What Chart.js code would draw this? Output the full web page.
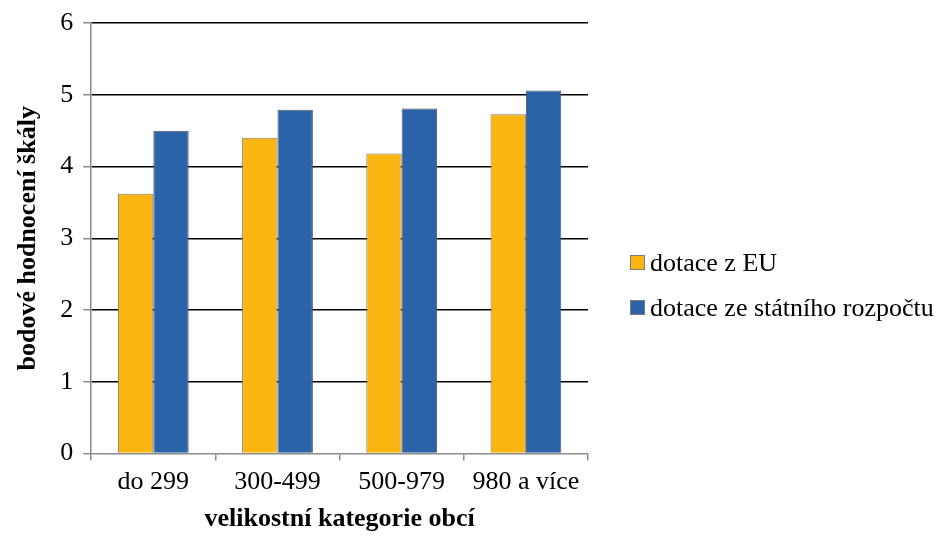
<!DOCTYPE html>
<html lang="cs">
<head>
<meta charset="utf-8">
<title>Hodnocení dotací podle velikosti obcí</title>
<script src="https://cdn.jsdelivr.net/npm/chart.js@4.4.0/dist/chart.umd.min.js"></script>
<style>
  html, body { margin: 0; padding: 0; background: #ffffff; }
  #obal { position: relative; width: 943px; height: 537px; }
  #legenda {
    position: absolute;
    left: 630px;
    top: 240px;
    font-family: 'Liberation Serif', 'Times New Roman', serif;
    font-size: 26px;
    color: #000000;
  }
  .legenda__polozka { display: flex; align-items: center; height: 45px; white-space: nowrap; }
  .legenda__ctverec {
    display: inline-block;
    width: 13px;
    height: 13px;
    border: 1px solid #7a7a7a;
    margin-right: 5px;
  }
</style>
</head>
<body>
<div id="obal">
  <canvas id="graf"></canvas>
  <div id="legenda"></div>
</div>
<script>
/* ===== DATA ===== */

const KATEGORIE = ["do 299", "300-499", "500-979", "980 a více"];
const DOTACE_EU = [3.62, 4.40, 4.18, 4.73];
const DOTACE_STAT = [4.50, 4.79, 4.81, 5.06];
const OSA_Y = [0, 1, 2, 3, 4, 5, 6];

const NAZVY_RAD = ["dotace z EU", "dotace ze státního rozpočtu"];
const BARVY_RAD = ["#FBB612", "#2B63A8"];

/* ===== STYL ===== */

const PISMO = "'Liberation Serif', 'Times New Roman', serif";
const SEDA = "#8c8c8c";

Chart.defaults.font.family = PISMO;
Chart.defaults.color = "#000000";

/* ===== GRAF ===== */

function vytvorGraf() {
  const platno = document.getElementById("graf");

  new Chart(platno, {
    type: "bar",
    data: {
      labels: KATEGORIE,
      datasets: [
        {
          label: NAZVY_RAD[0],
          data: DOTACE_EU,
          backgroundColor: BARVY_RAD[0],
          borderColor: "#7a7a7a",
          borderWidth: 1,
          categoryPercentage: 0.57,
          barPercentage: 1.0,
        },
        {
          label: NAZVY_RAD[1],
          data: DOTACE_STAT,
          backgroundColor: BARVY_RAD[1],
          borderColor: "#5a5a5a",
          borderWidth: 1,
          categoryPercentage: 0.57,
          barPercentage: 1.0,
        },
      ],
    },
    options: {
      responsive: true,
      maintainAspectRatio: false,
      animation: false,
      layout: { padding: { top: 6, right: 355, bottom: 2, left: 13 } },
      plugins: {
        tooltip: { enabled: false },
        legend: { display: false },
      },
      scales: {
        x: {
          border: { color: SEDA, width: 1.5 },
          grid: {
            offset: true,
            drawOnChartArea: false,
            drawTicks: true,
            tickLength: 7,
            tickColor: SEDA,
            lineWidth: 1.5,
          },
          ticks: { color: "#000000", font: { size: 26 }, padding: 6 },
          title: {
            display: true,
            text: "velikostní kategorie obcí",
            color: "#000000",
            font: { size: 26, weight: "bold" },
            padding: { top: 0, bottom: 0 },
          },
        },
        y: {
          min: 0,
          max: 6,
          afterBuildTicks: function(osa) {
            osa.ticks = OSA_Y.map(function(v) { return { value: v }; });
          },
          border: { color: SEDA, width: 1.5 },
          grid: {
            color: function(kontext) {
              return kontext.tick && kontext.tick.value === 0 ? "rgba(0,0,0,0)" : "#000000";
            },
            lineWidth: 1.5,
            tickLength: 8,
            tickColor: SEDA,
          },
          ticks: { color: "#000000", font: { size: 26, lineHeight: 1.0 }, padding: 10 },
          title: {
            display: true,
            text: "bodové hodnocení škály",
            color: "#000000",
            font: { size: 26, weight: "bold" },
            padding: { top: 0, bottom: 6 },
          },
        },
      },
    },
  });
}

/* ===== LEGENDA ===== */

function vytvorLegendu() {
  const kontejner = document.getElementById("legenda");

  NAZVY_RAD.forEach(function(nazev, i) {
    const polozka = document.createElement("div");
    polozka.classList.add("legenda__polozka");

    const ctverec = document.createElement("span");
    ctverec.classList.add("legenda__ctverec");
    ctverec.style.backgroundColor = BARVY_RAD[i];

    const text = document.createElement("span");
    text.textContent = nazev;

    polozka.appendChild(ctverec);
    polozka.appendChild(text);
    kontejner.appendChild(polozka);
  });
}

document.addEventListener("DOMContentLoaded", function() {
  vytvorGraf();
  vytvorLegendu();
});
</script>
</body>
</html>
